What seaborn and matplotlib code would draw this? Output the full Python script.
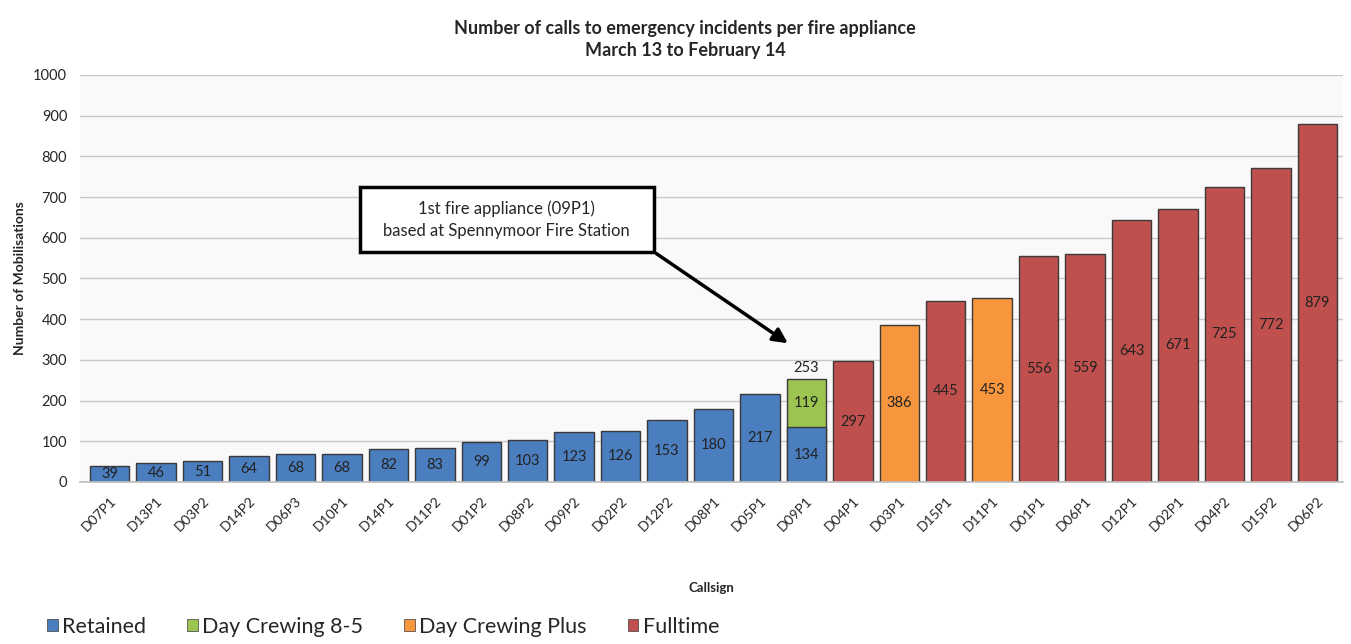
import matplotlib
matplotlib.use("Agg")
import matplotlib.pyplot as plt
from matplotlib.patches import Patch, Rectangle
import seaborn as sns
import pandas as pd

callsigns = ["D07P1", "D13P1", "D03P2", "D14P2", "D06P3", "D10P1", "D14P1", "D11P2",
             "D01P2", "D08P2", "D09P2", "D02P2", "D12P2", "D08P1", "D05P1", "D09P1",
             "D04P1", "D03P1", "D15P1", "D11P1", "D01P1", "D06P1", "D12P1", "D02P1",
             "D04P2", "D15P2", "D06P2"]
values = [39, 46, 51, 64, 68, 68, 82, 83, 99, 103, 123, 126, 153, 180, 217, 134,
          297, 386, 445, 453, 556, 559, 643, 671, 725, 772, 879]
crewing = ["Retained"] * 16 + ["Fulltime", "Day Crewing Plus", "Fulltime", "Day Crewing Plus"] + ["Fulltime"] * 7

# stacked part on D09P1
stack_callsign = ["D09P1"]
stack_values = [119]
stack_crewing = ["Day Crewing 8-5"]

categories = ["Retained", "Day Crewing 8-5", "Day Crewing Plus", "Fulltime"]
colors = ["#4a7ebf", "#9bc450", "#f7963c", "#c0504d"]
palette = dict(zip(categories, colors))

df = pd.DataFrame({"callsign": callsigns, "value": values, "crewing": crewing})
base = dict(zip(callsigns, values))
df_top = pd.DataFrame({"callsign": stack_callsign,
                       "total": [base[c] + v for c, v in zip(stack_callsign, stack_values)],
                       "crewing": stack_crewing})

sns.set_theme(style="white")
plt.rcParams["font.family"] = ["Lato", "DejaVu Sans"]

fig = plt.figure(figsize=(13.51, 6.44), dpi=100)
ax = fig.add_axes([0.059, 0.2516, 0.935, 0.632])
ax.set_facecolor("#f9f9f9")

ax.set_axisbelow(True)
ax.yaxis.grid(True, color="#c8c8c8", lw=1)

bar_kw = dict(width=0.85, edgecolor="#3a3a3a", linewidth=1, saturation=1, dodge=False, legend=False)
sns.barplot(data=df_top, x="callsign", y="total", hue="crewing", order=callsigns,
            hue_order=categories, palette=palette, ax=ax, **bar_kw)
sns.barplot(data=df, x="callsign", y="value", hue="crewing", order=callsigns,
            hue_order=categories, palette=palette, ax=ax, **bar_kw)

# value labels
lab_kw = dict(ha="center", va="center", fontsize=10.5, color="#222222")
for i, (c, v) in enumerate(zip(callsigns, values)):
    ax.text(i, v / 2, str(v), **lab_kw)
for c, v in zip(stack_callsign, stack_values):
    i = callsigns.index(c)
    ax.text(i, base[c] + v / 2, str(v), **lab_kw)
    ax.text(i, base[c] + v + 10, str(base[c] + v), ha="center", va="bottom",
            fontsize=10.5, color="#222222")

ax.set_xlim(-0.645, 26.55)
ax.set_ylim(0, 1000)
ax.set_yticks(range(0, 1001, 100))
ax.tick_params(axis="y", labelsize=10.5, pad=9, length=0)
ax.tick_params(axis="x", labelsize=10, length=0, pad=9)
plt.setp(ax.get_xticklabels(), rotation=45, ha="right", rotation_mode="anchor")

for s in ["top", "right", "left"]:
    ax.spines[s].set_visible(False)
ax.spines["bottom"].set_color("#bfbfbf")

ax.set_xlabel("Callsign", fontsize=9.5, fontweight="bold", labelpad=35)
ax.set_ylabel("Number of Mobilisations", fontsize=10, fontweight="bold", labelpad=5)

fig.text(0.507, 0.956, "Number of calls to emergency incidents per fire appliance",
         ha="center", va="center", fontsize=13, fontweight="bold")
fig.text(0.507, 0.922, "March 13 to February 14",
         ha="center", va="center", fontsize=13, fontweight="bold")

# annotation box
ax.add_patch(Rectangle((5.38, 565), 6.34, 160, facecolor="white", edgecolor="black", lw=2.5, zorder=5))
ax.text(8.55, 645, "1st fire appliance (09P1)\nbased at Spennymoor Fire Station",
        ha="center", va="center", fontsize=12, zorder=6, linespacing=1.45)
ax.annotate("", xy=(14.65, 337), xytext=(11.72, 565),
            arrowprops=dict(arrowstyle="-|>", lw=2.5, color="black", mutation_scale=22), zorder=6)

handles = [Patch(facecolor=palette[c], edgecolor="#3a3a3a", lw=0.5) for c in categories]
fig.legend(handles, categories, loc="center left", bbox_to_anchor=(0.035, 0.027), ncol=4,
           frameon=False, fontsize=15.5, handlelength=0.5, handleheight=0.5,
           handletextpad=0.2, columnspacing=1.9, borderaxespad=0, borderpad=0)

fig.savefig("out.png", dpi=100)
